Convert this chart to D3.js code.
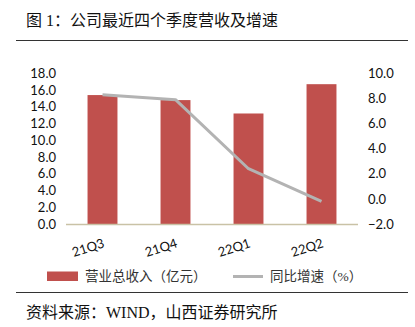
<!DOCTYPE html>
<html><head><meta charset="utf-8">
<script src="https://cdn.jsdelivr.net/npm/d3@7/dist/d3.min.js"></script>
<style>body{margin:0;background:#fff}svg{display:block}</style>
</head><body>
<script>
const categories = ["21Q3", "21Q4", "22Q1", "22Q2"];
const revenue = [15.4, 14.8, 13.2, 16.7];
const growth = [8.3, 7.9, 2.4, -0.2];
const leftTicks = [0, 2, 4, 6, 8, 10, 12, 14, 16, 18];
const rightTicks = [-2, 0, 2, 4, 6, 8, 10];
const title = "图 1：公司最近四个季度营收及增速";
const source = "资料来源：WIND，山西证券研究所";
const legendLabels = ["营业总收入（亿元）", "同比增速（%）"];

const W = 415, H = 327;
const svg = d3.select("body").append("svg").attr("width", W).attr("height", H);
const cjk = "'Liberation Serif','Noto Sans CJK SC',serif";
const num = "Lato,'Liberation Sans',sans-serif";

svg.append("text").attr("x", 26).attr("y", 26).attr("font-family", cjk).attr("font-size", 16).attr("fill", "#111").text(title);
svg.append("line").attr("x1", 16).attr("x2", 408).attr("y1", 40.5).attr("y2", 40.5).attr("stroke", "#333").attr("stroke-width", 1);

const x = d3.scaleBand().domain(categories).range([66, 358]).paddingInner(0.59).paddingOuter(0.295);
const yL = d3.scaleLinear().domain([0, 18]).range([224, 73.3]);
const yR = d3.scaleLinear().domain([-2, 10]).range([224, 73.3]);

// left axis
const gL = svg.append("g").attr("transform", "translate(60,0)")
  .call(d3.axisLeft(yL).tickValues(leftTicks).tickFormat(d3.format(".1f")).tickSize(0).tickPadding(4));
gL.select(".domain").remove();
gL.selectAll("text").attr("font-family", num).attr("font-size", 13).attr("fill", "#111");

const gR = svg.append("g").attr("transform", "translate(364,0)")
  .call(d3.axisRight(yR).tickValues(rightTicks).tickFormat(d3.format(".1f")).tickSize(0).tickPadding(4));
gR.select(".domain").remove();
gR.selectAll("text").attr("font-family", num).attr("font-size", 13).attr("fill", "#111");

// bars
svg.append("g").selectAll("rect").data(revenue).join("rect")
  .attr("x", (d, i) => x(categories[i])).attr("width", x.bandwidth())
  .attr("y", d => yL(d)).attr("height", d => yL(0) - yL(d))
  .attr("fill", "#c0504d");

// baseline
svg.append("line").attr("x1", 66).attr("x2", 358).attr("y1", yL(0) + 0.5).attr("y2", yL(0) + 0.5)
  .attr("stroke", "#c9c2a6").attr("stroke-width", 1.5);

// line
const line = d3.line().x((d, i) => x(categories[i]) + x.bandwidth() / 2).y(d => yR(d));
svg.append("path").datum(growth).attr("d", line).attr("fill", "none")
  .attr("stroke", "#b3b3b3").attr("stroke-width", 3).attr("stroke-linejoin", "round");

// x labels
const xa = svg.append("g").attr("transform", `translate(0,${yL(0)})`)
  .call(d3.axisBottom(x).tickSize(0).tickPadding(0));
xa.select(".domain").remove();
xa.selectAll("text").attr("font-family", num).attr("font-size", 13).attr("fill", "#111")
  .attr("text-anchor", "middle").attr("dy", 0)
  .attr("transform", "translate(-13,28) rotate(-18)");

// legend
const lg = svg.append("g");
lg.append("rect").attr("x", 47).attr("y", 271.5).attr("width", 31).attr("height", 9.5).attr("fill", "#c0504d");
lg.append("text").attr("x", 85).attr("y", 281).attr("font-family", cjk).attr("font-size", 13.5).attr("fill", "#333").text(legendLabels[0]);
lg.append("line").attr("x1", 233).attr("x2", 263).attr("y1", 276.5).attr("y2", 276.5).attr("stroke", "#b3b3b3").attr("stroke-width", 3);
lg.append("text").attr("x", 270).attr("y", 281).attr("font-family", cjk).attr("font-size", 13.5).attr("fill", "#333").text(legendLabels[1]);

svg.append("line").attr("x1", 16).attr("x2", 408).attr("y1", 292.5).attr("y2", 292.5).attr("stroke", "#333").attr("stroke-width", 1);
svg.append("text").attr("x", 26).attr("y", 318).attr("font-family", cjk).attr("font-size", 16).attr("fill", "#111").text(source);
</script>
</body></html>
